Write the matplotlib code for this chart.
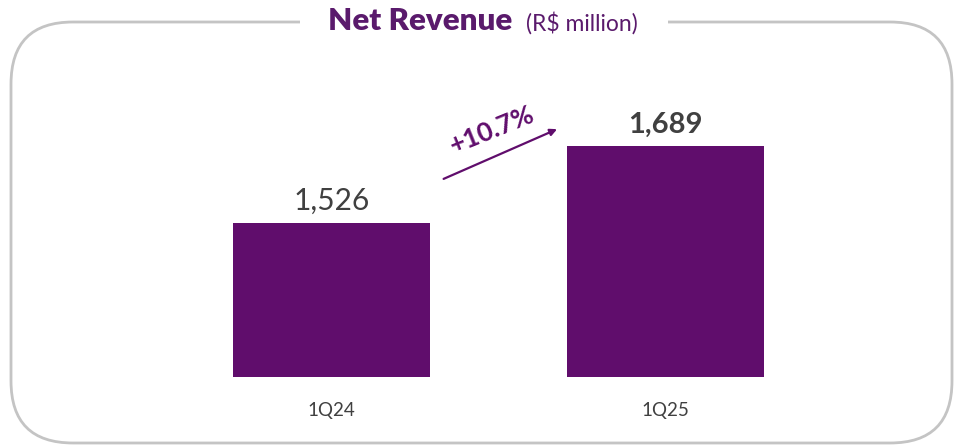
import matplotlib
matplotlib.use("Agg")
import matplotlib.pyplot as plt
from matplotlib.patches import FancyBboxPatch, Rectangle

plt.rcParams['font.family'] = ['Lato', 'DejaVu Sans']

# Net revenue, R$ million
quarters = ['1Q24', '1Q25']
revenue = [1526, 1689]

purple = '#600d6c'
title_col = '#5a1a6c'
grey_txt = '#404040'

W, H = 963, 448
fig = plt.figure(figsize=(W / 100, H / 100), dpi=100)

# background layer in pixel units for the rounded frame and title
bg = fig.add_axes([0, 0, 1, 1], zorder=0)
bg.set_xlim(0, W)
bg.set_ylim(H, 0)
bg.axis('off')
frame = FancyBboxPatch((11, 22), W - 22, H - 27,
                       boxstyle='round,pad=0,rounding_size=62',
                       fill=False, edgecolor='#c4c4c4', linewidth=2.0)
bg.add_patch(frame)
# gap in the top edge for the title
bg.add_patch(Rectangle((300, 5), 368, 35, facecolor='white',
                       edgecolor='none', zorder=3))
bg.text(512, 21, 'Net Revenue', ha='right', va='center', fontsize=22.5,
        fontweight='heavy', color=title_col, zorder=4)
bg.text(526, 23, '(R$ million)', ha='left', va='center', fontsize=16.5,
        color=title_col, zorder=4)

# bar area
ax = fig.add_axes([0, (H - 377) / H, 1, (377 - 60) / H], zorder=1)
ax.patch.set_alpha(0)
x = [0, 1]
ax.bar(x, revenue, width=0.59, color=purple, bottom=0)
ax.set_xlim(-331.5 / 334, (W - 331.5) / 334)
ymin = 1200
scale = 231 / (revenue[1] - ymin)
ax.set_ylim(ymin, ymin + (377 - 60) / scale)
ax.axis('off')

ax.text(x[0], revenue[0] + 18, f'{revenue[0]:,}', ha='center', va='bottom',
        fontsize=21.5, color=grey_txt)
ax.text(x[1], revenue[1] + 18, f'{revenue[1]:,}', ha='center', va='bottom',
        fontsize=21, color=grey_txt, fontweight='bold')

for xi, q in zip(x, quarters):
    ax.text(xi, ymin - 70, q, ha='center', va='center', fontsize=13.5,
            color=grey_txt)

# growth arrow between the bars
growth = (revenue[1] / revenue[0] - 1) * 100
ax.annotate('', xy=(0.683, 1727), xytext=(0.328, 1617),
            arrowprops=dict(arrowstyle='-|>', color=purple, lw=1.6,
                            mutation_scale=10))
ax.text(0.48, 1724, f'+{growth:.1f}%', ha='center', va='center',
        fontsize=19, fontweight='bold', color=purple, rotation=22)

fig.savefig('out.png', dpi=100)
